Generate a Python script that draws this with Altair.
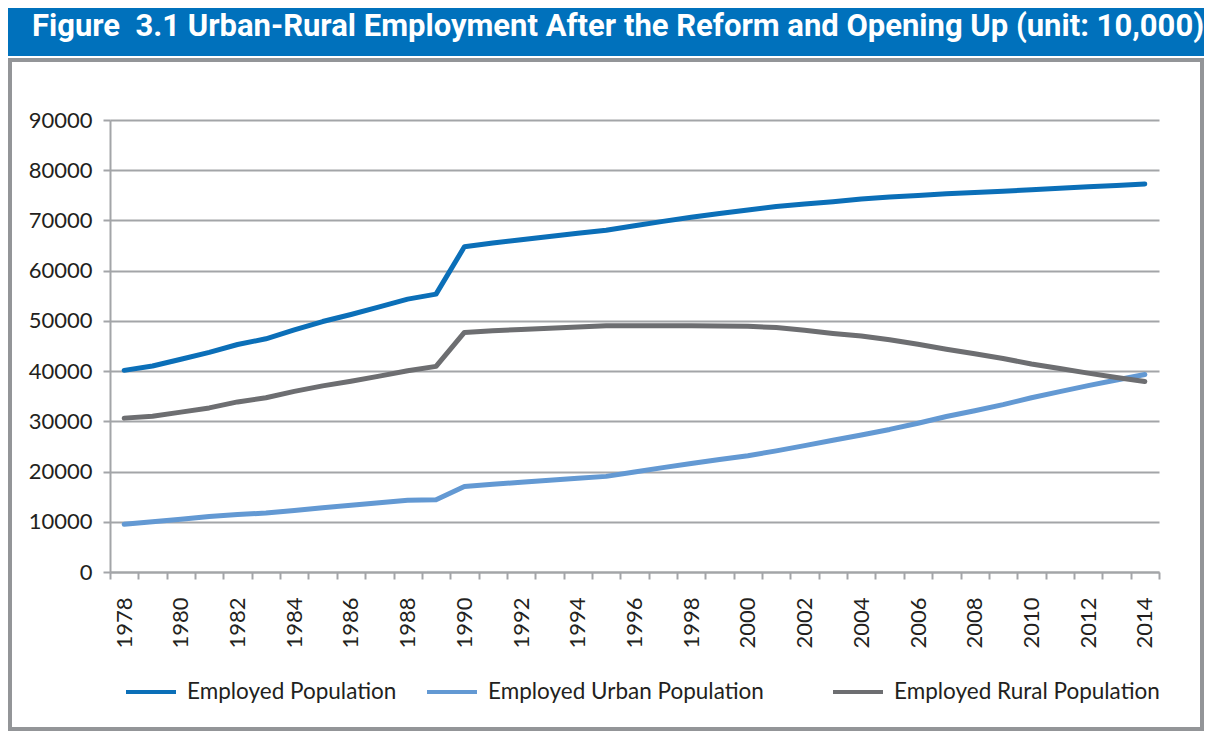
import altair as alt
import pandas as pd

years = list(range(1978, 2015))
employed = [40152, 41024, 42361, 43725, 45295, 46436, 48197, 49873, 51282, 52783,
            54334, 55329, 64749, 65491, 66152, 66808, 67455, 68065, 68950, 69820,
            70637, 71394, 72085, 72797, 73280, 73736, 74264, 74647, 74978, 75321,
            75564, 75828, 76105, 76420, 76704, 76977, 77253]
urban = [9514, 9999, 10525, 11053, 11428, 11746, 12229, 12808, 13292, 13783,
         14267, 14390, 17041, 17465, 17861, 18262, 18653, 19040, 19922, 20781,
         21616, 22412, 23151, 24123, 25159, 26230, 27293, 28389, 29630, 30953,
         32103, 33322, 34687, 35914, 37102, 38240, 39310]
rural = [30638, 31025, 31836, 32672, 33867, 34690, 35968, 37065, 37990, 39000,
         40067, 40939, 47708, 48026, 48291, 48546, 48802, 49025, 49028, 49039,
         49021, 48982, 48934, 48674, 48121, 47506, 46971, 46258, 45348, 44368,
         43461, 42506, 41418, 40506, 39602, 38737, 37943]
series_names = ["Employed Population", "Employed Urban Population", "Employed Rural Population"]
colors = ["#0B6FB8", "#6399D3", "#6D6E71"]
y_ticks = list(range(0, 90001, 10000))
title_text = "Figure\u00a0 3.1 Urban-Rural Employment After the Reform and Opening Up (unit: 10,000)"

rows = []
for name, vals in zip(series_names, [employed, urban, rural]):
    for yr, v in zip(years, vals):
        rows.append({"year": yr, "value": v, "series": name})
df = pd.DataFrame(rows)

W, H = 1049, 452
PL, PT = 102, 112
TOTAL_W, TOTAL_H = 1196, 723
GRAY = "#A3A5A8"
TXT = "#231F20"
FONT = "Lato"
legend_x = [14, 315, 721]

one = pd.DataFrame({"k": [0]})

frame = alt.Chart(one).mark_rect(fill="transparent", stroke="#939598", strokeWidth=4).encode(
    x=alt.value(-100), x2=alt.value(TOTAL_W - PL - 2), y=alt.value(-60), y2=alt.value(TOTAL_H - PT - 2)
)
bar = alt.Chart(one).mark_rect(fill="#0071BC").encode(
    x=alt.value(-102), x2=alt.value(TOTAL_W - PL), y=alt.value(-112), y2=alt.value(-64)
)
title = alt.Chart(one).mark_text(
    text=title_text, font="Roboto", fontWeight="bold", fontSize=31,
    color="white", align="center", baseline="alphabetic"
).encode(x=alt.value(508), y=alt.value(-84))

x_enc = alt.X("year:O", title=None,
              scale=alt.Scale(type="band", paddingInner=0, paddingOuter=0),
              axis=alt.Axis(tickBand="extent", labelAngle=270,
                            labelExpr="datum.value % 2 == 0 ? datum.label : ''",
                            labelOverlap=False, labelFont=FONT, labelFontSize=22, labelColor=TXT,
                            labelPadding=18, tickSize=7, tickWidth=2, tickColor=GRAY,
                            domainColor=GRAY, domainWidth=2, grid=False))
y_enc = alt.Y("value:Q", title=None, scale=alt.Scale(domain=[0, 90000], nice=False),
              axis=alt.Axis(values=y_ticks, format="d", labelFont=FONT, labelFontSize=22, labelColor=TXT,
                            labelPadding=11, tickSize=7, tickWidth=2, tickColor=GRAY,
                            domainColor=GRAY, domainWidth=2, grid=True, gridColor=GRAY, gridWidth=2))

series_layers = []
for i, (name, col) in enumerate(zip(series_names, colors)):
    series_layers.append(
        alt.Chart(df).transform_filter(alt.datum.series == name)
        .mark_line(strokeWidth=5, strokeCap="round", strokeJoin="round")
        .encode(
            x=x_enc, y=y_enc,
            color=alt.Color("series:N", scale=alt.Scale(domain=[name], range=[col]),
                            legend=alt.Legend(orient="none", legendX=legend_x[i], legendY=545,
                                              title=None, symbolType="stroke", symbolSize=2500,
                                              symbolStrokeWidth=4, labelFont=FONT, labelFontSize=22.5,
                                              labelColor=TXT, labelOffset=9, padding=0, labelLimit=600)),
        )
    )

lines = alt.layer(*series_layers).resolve_scale(color="independent")

chart = alt.layer(frame, bar, title, lines).properties(
    width=W, height=H,
    autosize=alt.AutoSizeParams(type="none"),
    padding={"left": PL, "top": PT, "right": TOTAL_W - PL - W, "bottom": TOTAL_H - PT - H},
    background="white",
).configure_view(stroke=None)

chart.save("out.html", embed_options={"renderer": "svg", "actions": False})
